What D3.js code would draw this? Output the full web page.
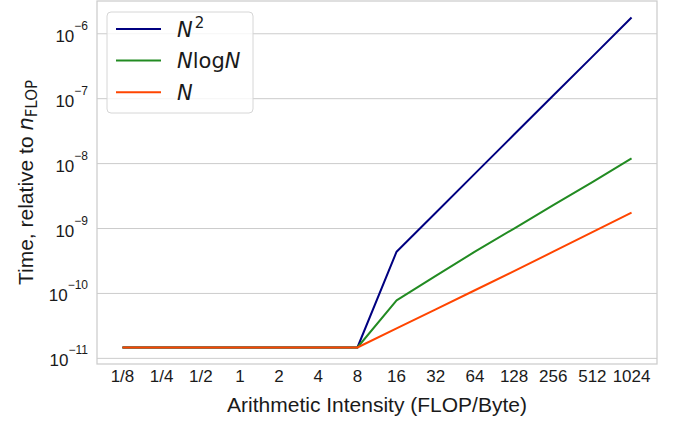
<!DOCTYPE html>
<html>
<head>
<meta charset="utf-8">
<script src="https://cdn.jsdelivr.net/npm/d3@7"></script>
<style>
  body { margin: 0; background: #fff; }
  text { font-family: "Liberation Sans", Arial, sans-serif; fill: #1a1a1a; }
  .math { font-family: "DejaVu Sans", sans-serif; }
</style>
</head>
<body>
<div id="chart"></div>
<script>
// x categories (arithmetic intensity)
const intensity = ["1/8", "1/4", "1/2", "1", "2", "4", "8", "16", "32", "64", "128", "256", "512", "1024"];

// time relative to n_FLOP, one value per category
const timeN2 = [1.47e-11, 1.47e-11, 1.47e-11, 1.47e-11, 1.47e-11, 1.47e-11, 1.47e-11,
  4.4e-10, 1.75e-9, 7.0e-9, 2.8e-8, 1.12e-7, 4.45e-7, 1.78e-6];
const timeNlogN = [1.47e-11, 1.47e-11, 1.47e-11, 1.47e-11, 1.47e-11, 1.47e-11, 1.47e-11,
  7.8e-11, 1.87e-10, 4.4e-10, 1.0e-9, 2.3e-9, 5.2e-9, 1.2e-8];
const timeN = [1.47e-11, 1.47e-11, 1.47e-11, 1.47e-11, 1.47e-11, 1.47e-11, 1.47e-11,
  2.9e-11, 5.7e-11, 1.12e-10, 2.2e-10, 4.4e-10, 8.8e-10, 1.76e-9];

const yTickExp = [-11, -10, -9, -8, -7, -6];

const series = [
  {key: "N2", values: timeN2, color: "#000080"},
  {key: "NlogN", values: timeNlogN, color: "#228b22"},
  {key: "N", values: timeN, color: "#ff4500"}
];

const W = 684, H = 425;
const m = {left: 97, right: 657, top: 1, bottom: 364};

const svg = d3.select("#chart").append("svg")
  .attr("width", W).attr("height", H);

// matplotlib-like 5% margins
const n = intensity.length;
const xm = (n - 1) * 0.05;
const x = d3.scaleLinear().domain([-xm, n - 1 + xm]).range([m.left, m.right]);

const all = series.flatMap(s => s.values);
const lmin = Math.log10(d3.min(all)), lmax = Math.log10(d3.max(all));
const ym = (lmax - lmin) * 0.05;
const y = d3.scaleLog().domain([10 ** (lmin - ym), 10 ** (lmax + ym)]).range([m.bottom, m.top]);

// horizontal grid
svg.append("g").selectAll("line")
  .data(yTickExp)
  .enter().append("line")
  .attr("x1", m.left).attr("x2", m.right)
  .attr("y1", d => y(10 ** d)).attr("y2", d => y(10 ** d))
  .attr("stroke", "#cccccc").attr("stroke-width", 1);

// frame
svg.append("rect")
  .attr("x", m.left).attr("y", m.top)
  .attr("width", m.right - m.left).attr("height", m.bottom - m.top)
  .attr("fill", "none").attr("stroke", "#cccccc").attr("stroke-width", 1.25);

// x tick labels
svg.append("g").selectAll("text")
  .data(intensity)
  .enter().append("text")
  .attr("x", (d, i) => x(i))
  .attr("y", 382)
  .attr("text-anchor", "middle")
  .style("font-size", "17px")
  .text(d => d);

// y tick labels 10^k
const yt = svg.append("g").selectAll("text")
  .data(yTickExp)
  .enter().append("text")
  .attr("x", 88)
  .attr("y", d => y(10 ** d) + 8)
  .attr("text-anchor", "end")
  .style("font-size", "17px");
yt.append("tspan").text("10");
yt.append("tspan")
  .attr("dy", -12)
  .style("font-size", "12px")
  .text(d => "\u2212" + Math.abs(d));

// lines
const line = d3.line()
  .x((d, i) => x(i))
  .y(d => y(d));

svg.append("g").selectAll("path")
  .data(series)
  .enter().append("path")
  .attr("d", d => line(d.values))
  .attr("fill", "none")
  .attr("stroke", d => d.color)
  .attr("stroke-width", 2)
  .attr("stroke-linejoin", "round");

// axis labels
svg.append("text")
  .attr("x", (m.left + m.right) / 2)
  .attr("y", 412)
  .attr("text-anchor", "middle")
  .style("font-size", "21px")
  .text("Arithmetic Intensity (FLOP/Byte)");

const yl = svg.append("text")
  .attr("transform", "translate(33," + ((m.top + m.bottom) / 2) + ") rotate(-90)")
  .attr("text-anchor", "middle")
  .style("font-size", "21px");
yl.append("tspan").text("Time, relative to ");
yl.append("tspan").attr("class", "math").style("font-style", "italic").text("n");
yl.append("tspan").attr("class", "math").attr("dy", 4).style("font-size", "15px").text("FLOP");

// legend
const lg = svg.append("g");
lg.append("rect")
  .attr("x", 107).attr("y", 12)
  .attr("width", 146).attr("height", 101)
  .attr("rx", 4)
  .attr("fill", "#fff").attr("fill-opacity", 0.8)
  .attr("stroke", "#d6d6d6").attr("stroke-width", 1);

const rows = lg.selectAll("g.row")
  .data(series)
  .enter().append("g")
  .attr("class", "row")
  .attr("transform", (d, i) => "translate(0," + (29 + i * 31.6) + ")");
rows.append("line")
  .attr("x1", 116).attr("x2", 161)
  .attr("stroke", d => d.color).attr("stroke-width", 2);
const lt = rows.append("text")
  .attr("class", "math")
  .attr("x", 177)
  .attr("y", 7.5)
  .style("font-size", "21px");
lt.each(function (d) {
  const t = d3.select(this);
  if (d.key === "N2") {
    t.append("tspan").style("font-style", "italic").text("N");
    t.append("tspan").attr("dx", 2).attr("dy", -9).style("font-size", "15px").text("2");
  } else if (d.key === "NlogN") {
    t.append("tspan").style("font-style", "italic").text("N");
    t.append("tspan").text("log");
    t.append("tspan").style("font-style", "italic").text("N");
  } else {
    t.append("tspan").style("font-style", "italic").text("N");
  }
});
</script>
</body>
</html>
